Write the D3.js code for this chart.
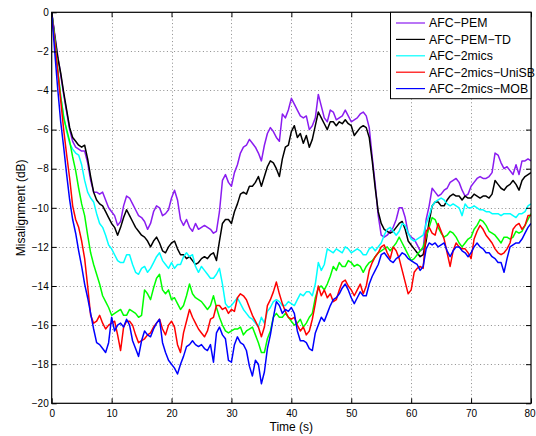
<!DOCTYPE html>
<html>
<head>
<meta charset="utf-8">
<script src="https://cdn.jsdelivr.net/npm/d3@7"></script>
<style>
  html, body { margin: 0; padding: 0; background: #fff; }
  svg { display: block; font-family: "Liberation Sans", Arial, Helvetica, sans-serif; }
</style>
</head>
<body>
<svg id="chart" width="536" height="436"></svg>
<script>
// Sample times in seconds (0 to 80 s, every 0.5 s)
const time = d3.range(0, 80.5, 0.5);

// Misalignment in dB for each method
const afcPem = [
  0, -1.1, -2.2, -3.2, -4.2, -5.1, -6.0, -6.6, -6.9, -7.0, -7.1, -7.1, -7.7, -8.6, -9.2, -9.2, -9.3, -9.2, -9.6, -10.0,
  -10.2, -10.4, -10.9, -10.7, -9.9, -9.4, -9.5, -9.8, -10.1, -10.4, -10.5, -10.7, -11.1, -10.8, -10.2, -9.9, -10.0, -10.4, -10.3, -10.1,
  -9.5, -9.1, -9.6, -10.6, -10.9, -10.6, -11.0, -11.2, -10.8, -11.1, -11.0, -10.9, -11.0, -11.1, -11.3, -11.2, -10.2, -8.6, -8.3, -8.7,
  -8.9, -8.2, -7.8, -7.2, -6.9, -6.8, -6.5, -6.7, -6.9, -7.2, -7.6, -6.8, -6.2, -5.9, -6.1, -6.4, -6.6, -5.2, -5.4, -5.0,
  -4.4, -4.7, -5.0, -5.3, -5.4, -5.3, -6.0, -5.8, -5.4, -4.2, -4.8, -5.4, -5.6, -5.0, -5.1, -5.5, -5.4, -5.3, -5.0, -5.3,
  -5.6, -5.5, -5.4, -5.2, -5.1, -5.3, -5.9, -7.4, -8.8, -10.4, -11.4, -11.5, -11.4, -11.2, -11.0, -10.6, -10.0, -10.0, -10.5, -11.3,
  -11.5, -11.6, -11.9, -12.2, -12.1, -10.6, -9.9, -9.0, -9.2, -9.4, -9.3, -9.1, -9.0, -8.7, -8.6, -8.5, -8.7, -9.1, -9.4, -9.3,
  -8.9, -8.7, -8.5, -8.4, -8.5, -8.5, -8.4, -8.2, -7.2, -7.3, -7.7, -8.0, -7.9, -8.1, -8.3, -7.8, -8.3, -7.6, -7.6, -7.5,
  -7.6
];
const afcPemTd = [
  0, -1.2, -2.3, -3.1, -4.1, -5.0, -5.9, -6.4, -6.6, -6.8, -6.9, -6.8, -7.5, -8.4, -9.2, -9.6, -9.8, -9.9, -10.2, -10.5,
  -10.8, -11.0, -11.4, -11.0, -10.5, -10.1, -10.4, -10.7, -11.0, -11.2, -11.4, -11.5, -11.7, -12.0, -11.7, -11.5, -11.8, -12.2, -12.3, -12.0,
  -11.8, -11.7, -12.1, -12.4, -12.4, -12.6, -12.5, -12.7, -12.9, -12.8, -12.6, -12.5, -12.6, -12.4, -12.3, -12.7, -11.7, -10.8, -10.6, -10.6,
  -10.8, -10.2, -9.8, -9.3, -9.2, -9.3, -8.9, -8.9, -8.7, -8.4, -8.9, -8.4, -7.9, -7.6, -7.7, -8.0, -8.4, -7.5, -6.9, -6.8,
  -6.1, -5.8, -6.4, -6.2, -6.7, -6.3, -6.9, -6.5, -5.8, -5.1, -5.4, -5.7, -6.0, -5.6, -5.6, -5.8, -5.6, -5.7, -5.5, -5.7,
  -5.8, -6.3, -6.1, -5.9, -5.8, -5.9, -6.4, -7.6, -9.0, -10.2, -10.8, -11.1, -11.2, -11.3, -11.2, -11.0, -10.8, -10.7, -11.1, -11.7,
  -11.9, -12.1, -12.3, -12.5, -12.4, -11.7, -10.7, -9.9, -9.7, -9.7, -9.9, -9.9, -9.6, -9.4, -9.3, -9.4, -9.4, -9.6, -9.4, -9.5,
  -9.5, -9.3, -9.4, -9.5, -9.4, -9.4, -9.5, -9.3, -8.6, -8.8, -9.0, -9.1, -8.9, -8.8, -8.6, -8.8, -9.1, -8.6, -8.4, -8.3,
  -8.2
];
const afc2mics = [
  0, -1.5, -3.0, -4.3, -5.3, -6.1, -6.7, -7.0, -7.2, -7.3, -7.8, -8.6, -9.2, -9.5, -9.7, -10.3, -10.8, -11.0, -11.4, -11.9,
  -12.1, -12.4, -12.7, -12.8, -12.8, -12.4, -12.4, -12.9, -13.3, -13.4, -13.1, -13.0, -13.3, -13.1, -12.8, -12.5, -12.3, -12.7, -12.9, -13.1,
  -12.8, -13.1, -12.9, -12.9, -12.5, -12.3, -12.5, -12.4, -13.0, -13.3, -13.0, -13.2, -13.4, -13.6, -13.6, -13.4, -13.1, -13.9, -14.9, -15.1,
  -15.0, -14.8, -14.6, -14.9, -15.2, -15.4, -15.6, -15.7, -15.9, -16.1, -15.6, -15.9, -15.3, -15.1, -14.8, -14.7, -14.8, -15.0, -15.0, -14.8,
  -14.9, -15.0, -14.7, -14.4, -14.5, -14.3, -14.3, -14.5, -13.9, -12.8, -13.2, -12.9, -12.1, -12.2, -12.3, -12.1, -12.2, -12.3, -12.0, -12.1,
  -12.3, -12.2, -12.1, -12.2, -12.4, -12.4, -12.1, -12.0, -12.2, -12.0, -11.8, -11.4, -11.1, -11.0, -11.2, -11.4, -11.2, -10.8, -10.9, -11.3,
  -11.6, -11.7, -11.6, -11.5, -11.4, -10.8, -10.4, -9.9, -9.7, -9.6, -9.5, -9.6, -9.8, -9.9, -9.8, -9.9, -10.0, -10.4, -9.8, -10.0,
  -10.0, -9.9, -10.0, -10.1, -10.1, -10.2, -10.2, -10.3, -10.3, -10.3, -10.4, -10.3, -10.3, -10.3, -10.4, -10.5, -10.3, -10.3, -10.2, -9.9,
  -9.8
];
const afc2micsGreen = [
  0, -1.3, -2.9, -4.3, -5.4, -6.0, -6.6, -7.4, -8.1, -9.0, -9.8, -10.4, -11.4, -12.3, -12.9, -13.4, -13.9, -14.5, -14.8, -15.1,
  -15.5, -15.4, -15.3, -15.2, -15.5, -15.5, -15.2, -15.3, -15.4, -15.6, -15.5, -14.2, -14.4, -14.7, -14.1, -13.6, -13.4, -14.2, -14.4, -14.2,
  -14.7, -14.6, -14.9, -15.2, -15.0, -14.5, -13.9, -14.4, -14.6, -14.7, -14.8, -15.0, -15.2, -15.0, -14.5, -15.1, -15.6, -16.0, -16.3, -16.4,
  -16.3, -16.2, -16.2, -16.1, -16.5, -16.3, -16.2, -16.1, -16.5, -16.9, -17.4, -17.4, -16.7, -16.3, -15.6, -15.4, -15.6, -15.6, -15.4, -15.6,
  -15.8, -16.0, -15.9, -15.7, -16.1, -15.9, -15.6, -15.4, -14.6, -14.1, -14.0, -14.2, -13.9, -13.5, -13.0, -13.2, -12.8, -13.0, -13.0, -12.7,
  -12.8, -13.0, -12.9, -13.0, -13.3, -13.0, -12.8, -12.7, -12.5, -12.3, -12.2, -12.1, -12.0, -12.2, -12.0, -11.8, -11.5, -11.8, -12.1, -12.4,
  -12.7, -12.6, -12.4, -12.2, -12.0, -11.5, -11.0, -10.5, -10.6, -11.0, -11.3, -11.5, -11.4, -11.2, -11.3, -11.5, -11.8, -12.0, -11.8, -11.6,
  -11.5, -11.1, -10.9, -10.6, -10.7, -10.9, -11.2, -11.3, -11.4, -11.6, -11.8, -11.5, -11.5, -11.6, -11.5, -11.2, -11.3, -11.2, -10.9, -10.6,
  -10.3
];
const afc2micsUniSB = [
  0, -1.5, -3.0, -4.5, -6.0, -7.3, -8.5, -9.9, -10.6, -11.0, -11.7, -12.6, -14.0, -15.5, -15.9, -15.8, -15.5, -15.9, -16.2, -16.0,
  -15.9, -15.8, -16.5, -17.3, -16.1, -15.8, -15.8, -16.0, -16.5, -16.9, -16.8, -16.7, -16.5, -16.4, -16.1, -15.9, -15.7, -16.2, -16.5, -16.0,
  -15.8, -16.1, -17.0, -17.4, -16.4, -15.8, -15.2, -15.6, -15.9, -16.2, -16.4, -16.6, -16.3, -15.7, -15.6, -15.0, -15.0, -15.2, -15.1, -15.4,
  -15.2, -15.3, -14.6, -14.4, -14.5, -14.7, -15.1, -15.5, -15.8, -16.1, -16.6, -16.1, -15.0, -14.7, -14.3, -13.8, -14.4, -14.9, -15.3, -15.6,
  -15.7, -15.6, -16.0, -16.3, -16.1, -16.5, -16.3, -15.7, -14.9, -14.0, -14.5, -14.2, -14.6, -14.4, -14.8, -14.7, -14.2, -13.8, -13.7, -14.0,
  -14.2, -14.5, -14.2, -13.9, -14.4, -14.0, -13.2, -12.8, -12.5, -12.3, -12.0, -11.9, -12.3, -12.6, -12.0, -12.2, -12.6, -13.2, -13.8, -14.4,
  -14.2, -13.3, -13.1, -13.0, -13.1, -11.2, -11.0, -11.3, -11.4, -10.8, -11.2, -11.6, -12.3, -13.0, -12.2, -11.8, -12.0, -12.1, -12.1, -12.3,
  -12.6, -11.6, -11.2, -10.9, -11.1, -11.4, -11.6, -11.8, -12.1, -12.3, -12.4, -12.3, -12.1, -11.8, -11.1, -10.9, -10.8, -11.1, -10.9, -10.4,
  -10.4
];
const afc2micsMob = [
  0, -2.0, -3.9, -5.6, -6.9, -8.3, -9.6, -10.6, -11.3, -12.2, -13.0, -13.9, -14.6, -15.4, -16.2, -16.9, -17.0, -17.2, -17.4, -16.9,
  -15.6, -16.3, -16.0, -15.9, -16.1, -15.7, -16.0, -16.8, -17.2, -17.6, -16.8, -16.3, -16.5, -16.6, -16.2, -15.9, -15.7, -16.9, -17.4, -17.8,
  -18.0, -18.2, -18.5, -18.0, -17.6, -17.1, -17.0, -16.8, -17.0, -17.1, -17.0, -17.2, -17.3, -17.0, -17.9, -16.4, -16.1, -16.5, -16.7, -17.8,
  -17.9, -17.0, -16.6, -16.9, -17.0, -17.3, -18.1, -18.6, -17.8, -18.0, -19.0, -18.4, -17.2, -16.5, -15.6, -14.8, -15.0, -15.4, -15.2, -15.3,
  -15.1, -15.4, -16.3, -16.8, -16.8, -16.9, -17.2, -17.3, -16.4, -16.0, -15.6, -15.8, -15.4, -15.0, -14.7, -14.6, -14.4, -14.1, -13.9, -14.2,
  -14.6, -14.9, -14.6, -14.3, -14.5, -14.5, -13.9, -13.5, -13.2, -12.9, -12.4, -12.3, -12.5, -12.7, -12.8, -12.6, -12.5, -12.3, -12.4, -12.6,
  -12.7, -12.8, -12.9, -13.2, -13.0, -12.1, -11.8, -11.9, -11.8, -12.0, -11.9, -11.8, -12.2, -12.5, -12.2, -12.0, -12.0, -12.2, -12.3, -12.5,
  -12.3, -12.0, -11.8, -12.0, -12.1, -12.3, -12.3, -12.5, -12.6, -12.8, -12.8, -13.3, -12.6, -12.0, -11.9, -11.8, -11.8, -11.6, -11.3, -11.0,
  -10.8
];

// Series in drawing order; the green curve has no legend entry
const series = [
  { name: "AFC\u2212PEM",          values: afcPem,        color: "#8a1cf0" },
  { name: "AFC\u2212PEM\u2212TD",  values: afcPemTd,      color: "#000000" },
  { name: "AFC\u22122mics",        values: afc2mics,      color: "#00ffff" },
  { name: "",                      values: afc2micsGreen, color: "#00ff00" },
  { name: "AFC\u22122mics\u2212UniSB", values: afc2micsUniSB, color: "#ff0000" },
  { name: "AFC\u22122mics\u2212MOB",   values: afc2micsMob,   color: "#0000ff" }
];
const legendOrder = [0, 1, 2, 4, 5];

const xTicks = [0, 10, 20, 30, 40, 50, 60, 70, 80];
const yTicks = [0, -2, -4, -6, -8, -10, -12, -14, -16, -18, -20];

const svg = d3.select("#chart");
const W = 536, H = 436;
const plot = { left: 51.7, right: 531, top: 12.3, bottom: 403.3 };

const x = d3.scaleLinear().domain([0, 80]).range([plot.left, plot.right]);
const y = d3.scaleLinear().domain([-20, 0]).range([plot.bottom, plot.top]);

svg.append("rect").attr("width", W).attr("height", H).attr("fill", "#fff");

svg.append("defs").append("clipPath").attr("id", "plotClip")
  .append("rect")
  .attr("x", plot.left).attr("y", plot.top)
  .attr("width", plot.right - plot.left).attr("height", plot.bottom - plot.top);

// dotted grid
const grid = svg.append("g").attr("stroke", "#8c8c8c").attr("stroke-width", 1)
  .attr("stroke-dasharray", "1,2.6");
grid.selectAll("line.gx").data(xTicks.slice(1, -1)).join("line")
  .attr("x1", d => Math.round(x(d)) + 0.5).attr("x2", d => Math.round(x(d)) + 0.5)
  .attr("y1", plot.top).attr("y2", plot.bottom);
grid.selectAll("line.gy").data(yTicks.slice(1, -1)).join("line")
  .attr("y1", d => Math.round(y(d)) + 0.5).attr("y2", d => Math.round(y(d)) + 0.5)
  .attr("x1", plot.left).attr("x2", plot.right);

// data lines
const line = d3.line().x((d, i) => x(time[i])).y(d => y(d));
const lines = svg.append("g").attr("clip-path", "url(#plotClip)");
series.forEach(s => {
  lines.append("path")
    .datum(s.values)
    .attr("fill", "none")
    .attr("stroke", s.color)
    .attr("stroke-width", 1.5)
    .attr("stroke-linejoin", "round")
    .attr("d", line);
});

// axes: inward ticks on all four sides, boxed
const fmt = d => (d < 0 ? "\u2212" + Math.abs(d) : String(d));
const axisFont = g => g.selectAll("text")
  .attr("font-size", 10).attr("fill", "#000")
  .attr("font-family", "'Liberation Sans', Arial, Helvetica, sans-serif");

const xb = svg.append("g").attr("transform", `translate(0,${plot.bottom})`)
  .call(d3.axisBottom(x).tickValues(xTicks).tickFormat(fmt).tickSizeInner(-5).tickSizeOuter(0).tickPadding(7));
const xt = svg.append("g").attr("transform", `translate(0,${plot.top})`)
  .call(d3.axisTop(x).tickValues(xTicks).tickFormat("").tickSizeInner(-5).tickSizeOuter(0));
const yl = svg.append("g").attr("transform", `translate(${plot.left},0)`)
  .call(d3.axisLeft(y).tickValues(yTicks).tickFormat(fmt).tickSizeInner(-5).tickSizeOuter(0).tickPadding(3));
const yr = svg.append("g").attr("transform", `translate(${plot.right},0)`)
  .call(d3.axisRight(y).tickValues(yTicks).tickFormat("").tickSizeInner(-5).tickSizeOuter(0));
[xb, xt, yl, yr].forEach(g => {
  g.select(".domain").remove();
  g.selectAll("line").attr("stroke", "#000");
  axisFont(g);
});
// keep the last x label inside the frame
xb.selectAll(".tick text").filter(d => d === 80).attr("dx", "-1.5");

svg.append("rect")
  .attr("x", plot.left).attr("y", plot.top)
  .attr("width", plot.right - plot.left).attr("height", plot.bottom - plot.top)
  .attr("fill", "none").attr("stroke", "#000").attr("stroke-width", 1.2);

// axis titles
svg.append("text")
  .attr("x", (plot.left + plot.right) / 2).attr("y", 431)
  .attr("text-anchor", "middle").attr("font-size", 12).attr("fill", "#000")
  .text("Time (s)");
svg.append("text")
  .attr("transform", `translate(25,${(plot.top + plot.bottom) / 2}) rotate(-90)`)
  .attr("text-anchor", "middle").attr("font-size", 12).attr("fill", "#000")
  .text("Misalignment (dB)");

// legend
const lg = svg.append("g");
lg.append("rect")
  .attr("x", 390.5).attr("y", plot.top).attr("width", plot.right - 390.5).attr("height", 86.4)
  .attr("fill", "#fff").attr("stroke", "#000").attr("stroke-width", 1);
legendOrder.forEach((si, k) => {
  const s = series[si];
  const yy = 23 + k * 16.4;
  lg.append("line")
    .attr("x1", 396).attr("x2", 425).attr("y1", yy).attr("y2", yy)
    .attr("stroke", s.color).attr("stroke-width", 1.2);
  lg.append("text")
    .attr("x", 429).attr("y", yy).attr("dy", "0.36em")
    .attr("font-size", 12.3).attr("fill", "#000")
    .text(s.name);
});
</script>
</body>
</html>
